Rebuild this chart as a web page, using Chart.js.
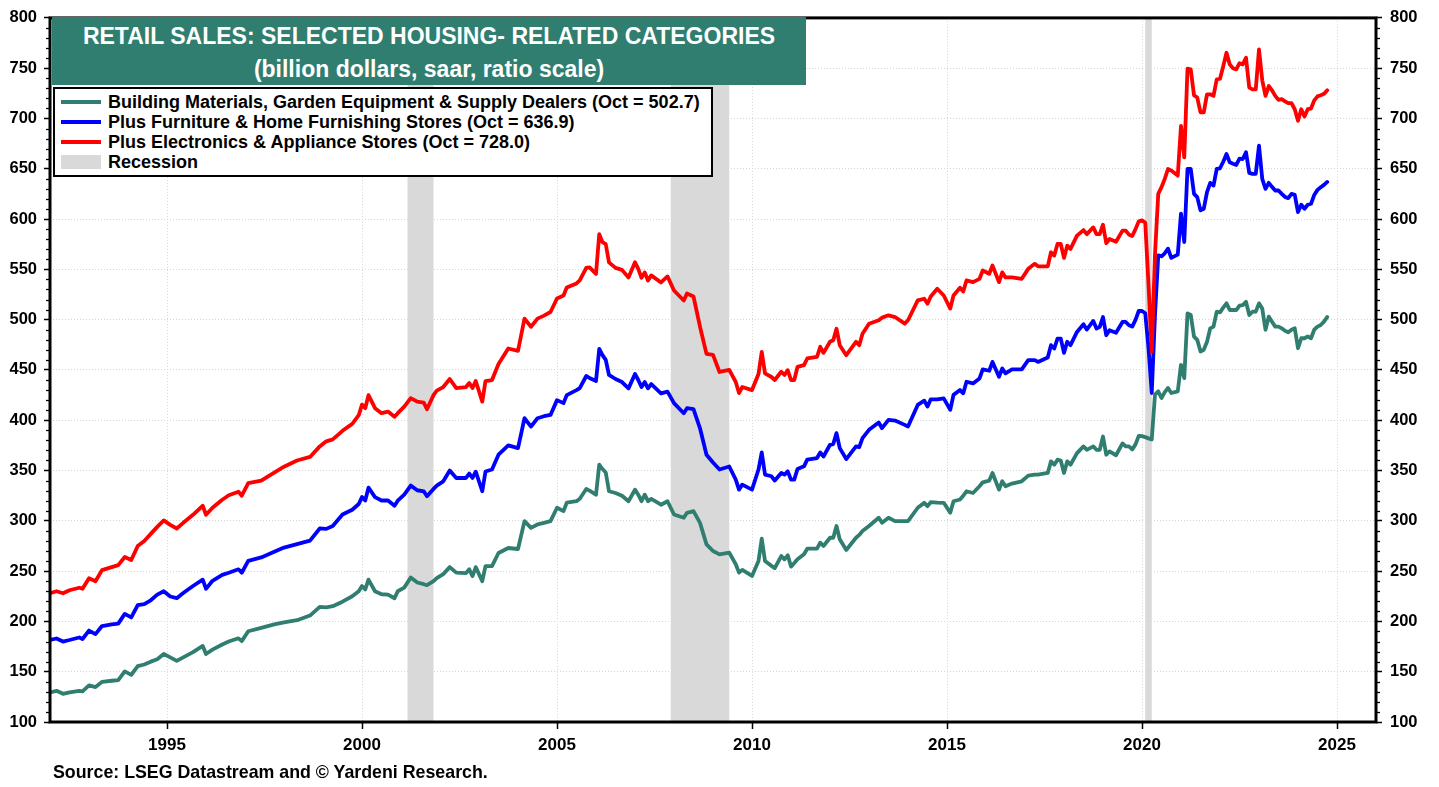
<!DOCTYPE html>
<html>
<head>
<meta charset="utf-8">
<script src="https://cdn.jsdelivr.net/npm/chart.js@4.4.0/dist/chart.umd.min.js"></script>
<style>
html,body{margin:0;padding:0;background:#fff;}
#wrap{position:relative;width:1439px;height:787px;font-family:Arial,"Liberation Sans",sans-serif;font-weight:bold;}
#c{position:absolute;left:0;top:0;}
#titlebox{position:absolute;left:52px;top:17px;width:754px;height:68px;background:#2F7E70;color:#fff;}
.tl{position:absolute;left:0;width:100%;text-align:center;font-size:23px;line-height:24px;white-space:nowrap;}
#legend{position:absolute;left:53px;top:87px;width:660px;height:90px;box-sizing:border-box;border:2px solid #000;background:#fff;}
.lrow{position:absolute;left:0;height:20px;width:100%;}
.sw{position:absolute;left:6px;width:40px;height:4px;top:8px;}
.lt{position:absolute;left:53px;top:0;font-size:18px;line-height:20px;white-space:nowrap;color:#000;}
#source{position:absolute;left:53px;top:762px;font-size:17.8px;line-height:20px;color:#000;white-space:nowrap;}
</style>
</head>
<body>
<div id="wrap">
<canvas id="c" width="1439" height="787"></canvas>
<div id="titlebox">
  <div class="tl" style="top:7px">RETAIL SALES: SELECTED HOUSING- RELATED CATEGORIES</div>
  <div class="tl" style="top:40px">(billion dollars, saar, ratio scale)</div>
</div>
<div id="legend"></div>
<div id="source">Source: LSEG Datastream and © Yardeni Research.</div>
</div>
<script>
// ---------------- DATA ----------------
const dates = [
 '1992-01','1992-03','1992-05','1992-07','1992-10','1992-11',
 '1993-01','1993-03','1993-05','1993-08','1993-10','1993-12',
 '1994-02','1994-04','1994-06','1994-08','1994-10','1994-12',
 '1995-02','1995-04','1995-06','1995-09','1995-12',
 '1996-01','1996-03','1996-06','1996-08','1996-11','1996-12',
 '1997-02','1997-06','1997-10',
 '1998-01','1998-05','1998-09','1998-12',
 '1999-02','1999-04','1999-07','1999-10','1999-12',
 '2000-01','2000-02','2000-03','2000-05','2000-07','2000-09','2000-11','2000-12',
 '2001-02','2001-04','2001-06','2001-08','2001-09','2001-11','2001-12',
 '2002-02','2002-04','2002-06','2002-09','2002-10','2002-11','2002-12',
 '2003-02','2003-03','2003-05','2003-07','2003-10',
 '2004-01','2004-03','2004-05','2004-07','2004-09','2004-11',
 '2005-01','2005-03','2005-04','2005-07','2005-08','2005-10','2005-11',
 '2006-01','2006-02','2006-03','2006-04','2006-05','2006-07','2006-09','2006-11',
 '2007-01','2007-02','2007-03','2007-04','2007-05','2007-06','2007-09','2007-11',
 '2008-01','2008-04','2008-05','2008-07','2008-09','2008-11',
 '2009-01','2009-03','2009-06','2009-08','2009-09','2009-10',
 '2010-01','2010-03','2010-04','2010-05','2010-07','2010-08','2010-10','2010-11','2010-12',
 '2011-01','2011-02','2011-03','2011-05','2011-06','2011-09','2011-10','2011-11',
 '2012-01','2012-02','2012-03','2012-04','2012-06','2012-09','2012-10','2012-11',
 '2013-01','2013-04','2013-05','2013-07','2013-09','2013-12',
 '2014-01','2014-04','2014-06','2014-07','2014-08','2014-10','2014-12',
 '2015-02','2015-03','2015-05','2015-06','2015-07','2015-09','2015-11','2015-12',
 '2016-02','2016-03','2016-05','2016-06','2016-07','2016-09','2016-12',
 '2017-02','2017-04','2017-05','2017-08','2017-09','2017-10','2017-11','2017-12',
 '2018-01','2018-02','2018-03','2018-05','2018-07','2018-08','2018-10','2018-11','2018-12',
 '2019-01','2019-02','2019-03','2019-05','2019-07','2019-08','2019-09','2019-10','2019-11','2019-12',
 '2020-01','2020-02','2020-03','2020-04','2020-05','2020-06','2020-07','2020-08','2020-09','2020-10','2020-12',
 '2021-01','2021-02','2021-03','2021-04','2021-05','2021-06','2021-07','2021-08','2021-09','2021-10','2021-11','2021-12',
 '2022-01','2022-02','2022-03','2022-04','2022-05','2022-06','2022-07','2022-08','2022-09','2022-10','2022-11','2022-12',
 '2023-01','2023-02','2023-03','2023-04','2023-05','2023-06','2023-07','2023-08','2023-09','2023-10','2023-11','2023-12',
 '2024-01','2024-02','2024-03','2024-04','2024-05','2024-06','2024-07','2024-08','2024-09','2024-10'
];

const buildingMaterials = [
 129.5,131,128,129.5,131,130.5,
 136.4,134.7,139.9,141,141.6,150.3,
 146.8,155.5,157.2,160,162.4,167.6,
 164.2,160.7,164.2,169.4,175.6,
 167.6,172,177,180,183.2,180.4,
 190.2,193.6,197,
 199,201.2,205.8,214.4,
 214,215.1,219.6,225,230,
 235.2,231.8,241.5,230,227,226.6,223,230,
 233.6,243.6,238.7,237,236,240,243,
 247,254,248.5,248,251.8,245,254,
 240,255,255,268,273,
 272,299.7,293,296.4,298,299.7,
 313,309.6,318,319.5,322,331.7,330,
 326,355.8,351.5,348,329.4,327.7,325,319.5,
 331,326,319.5,326,319.5,321.8,316,319.5,
 306.3,303,308,309.6,298,276.6,
 270,266.7,268.4,256.8,248.5,251.2,
 245.2,260,282.2,260,255.2,253,265,261.7,265.7,
 254.5,258,261.7,266.7,272.3,272.3,278.3,275,
 283.2,283.2,294.8,281.6,271,283.2,286,289.8,
 294.8,303,298,303,299.7,299.7,
 299.7,313,317.9,314.6,318.5,318,317.9,
 308,319.5,321.2,325,329.4,327.7,334.4,338.3,
 340,347.6,331,339.3,334.4,337,339.3,
 345,346,346,347.6,359.1,355.8,360.8,360,
 347.6,359.1,355.8,367.3,374,370.6,374,370.6,370.6,
 383.8,365.7,369,365.2,377,374,374,371,376,384.5,
 384.2,383.2,382,380.9,425.4,428.7,422.1,428,432,427.1,428.7,
 455.1,441.9,506.3,504.6,483.2,479.9,468.3,470,478,491.4,493.1,507.9,
 507.3,512,516.2,509.6,509.6,509.6,514,514.5,517.8,504.6,507.9,508,
 516.2,511,490,503,498,493.1,493.1,491.4,489,487.5,490,491.4,
 471.6,481.5,481.5,483.2,481.5,490,493.1,494.7,498,502.7
];

const plusFurniture = [
 181.5,183,180,181.5,184,182.5,
 190.9,187.4,195.4,197,197.8,207.5,
 204,216.2,217.2,221,226.6,230,
 224.8,223.1,228.3,235.2,241.5,
 232.4,240.4,246.3,248.4,251.8,248.4,
 260.2,263.6,269.2,
 273.4,276.8,280.3,292.4,
 292,294.9,306.3,311,316.7,
 323.6,320.2,333,323.6,320.2,320.2,315,320,
 326,335,330.4,329.4,324.5,331.7,335,
 339.3,350,342.6,342.6,347,342.6,348.9,
 329.4,349,351,365.7,375,
 372.3,402,393.7,402,404,405.3,
 420,417,425,430,432,444,442,
 439,471,464.7,460,445,441,438,431.7,
 446,440,433,438,431.7,436,426.8,428.4,
 417,407,412,411,392,365.7,
 358,351,354,341,331,336,
 331,351,368,346,344.3,340,347.6,346,349.2,
 341,341,351.5,354.2,360.8,362.4,368,364,
 375.6,376.3,387.2,372.3,361.4,374,373.3,382.2,
 390.5,397.7,392.1,400.4,399.7,395.4,
 393.8,415.2,419.5,413.6,420.8,420.8,421.8,
 410.3,425.2,430,426.8,438.3,436.6,441.6,450.5,
 449.2,458,443.2,451.5,446.6,450.5,450.5,
 459.8,459.8,458,462.4,474.6,471.3,481.2,481.2,
 467,478,474.6,487.8,495.4,490.1,498.7,491.1,492.8,
 502.6,484.5,489.5,487,497.7,497.7,494.4,493.1,499.7,508.6,
 508.6,506.3,472,427.1,505,564,563,566,570.6,561.4,564.7,
 605.3,577.2,649.8,649.8,625.1,621.8,608.6,610.2,626.7,636,633.3,649.8,
 650.5,657,664.7,656.4,655,653.8,660,659.7,666.4,645.9,644.9,645,
 672.9,640,630,636,632,628.4,628.4,625.1,622,620.8,625.1,624.1,
 607,614.2,610.2,614.2,615.2,624,629,631.7,634,636.9
];

const plusElectronics = [
 228,230,228,231,233.5,232.5,
 243,240,251,254,256,264,
 261,275,280,287,294,300.4,
 296,292.4,298,306,315,
 306,313,321,325.4,329,325,
 337.5,340,348,
 353.8,360,363.5,374,
 379,381,389.5,396.4,405,
 415.5,412,425,412,407,408.6,403.4,407,
 413.5,422,418.5,417.5,411,425,429.4,
 433,441,432,433,437,432,439,
 418.5,439,440,456,471.3,
 469,501,493,501,504,507.6,
 521,524,532,536,539,551.5,552,
 545.5,585,577,575,557,551.5,549.5,542,
 557,550.5,541.6,547,539,544,537,543,
 529,519,526,523,493,466,
 465,448,450,438,427,433,
 430,446,468,446.6,443,440,448.2,445,449.8,
 440,440,453,454.8,461.4,463,473,467,
 478,479.5,491,474.6,464.7,478,474.6,486,
 496,499.4,502,504.3,502.6,496,
 499.4,519.2,520.8,515.8,523,530.7,524,
 511,524,531.7,528,539,537.3,540.6,548.8,
 545.6,553.8,537.3,547,542,542,540.6,
 550.5,555.5,553,553,567,563.7,575.2,575.2,
 561.4,573.6,570.3,583.5,589,585,591.7,585,585,
 594.4,576,580.2,577.5,588.5,588.5,584.5,583.2,590,597.7,
 598.7,596.4,535,468.3,565,625.1,631.7,640,649.8,648.2,643.2,
 692.7,661.4,749.5,748.8,723.1,720.8,706,706,724,724,722.5,739,
 739.6,752,765.3,753.8,750,748.8,755,753.8,760.4,730.7,729,729,
 768.6,738,722.5,732.3,728,722.5,718.5,719.2,717,715.2,715.2,709.2,
 697.7,709.2,702,709.2,709.9,718,722,723.1,724.5,728.0
];

const seriesNames = [
 'Building Materials, Garden Equipment & Supply Dealers (Oct = 502.7)',
 'Plus Furniture & Home Furnishing Stores (Oct = 636.9)',
 'Plus Electronics & Appliance Stores (Oct = 728.0)'
];
const seriesColors = ['#2F7E70', '#0000FF', '#FF0000'];
const recessions = [['2001-03','2001-11'], ['2007-12','2009-06'], ['2020-02','2020-04']];
const xTickYears = [1995, 2000, 2005, 2010, 2015, 2020, 2025];
const yMin = 100, yMax = 800, yStep = 50, yMinorStep = 10;

// ---------------- HELPERS ----------------
function toYear(d){ const [y,m] = d.split('-').map(Number); return y + (m-1)/12; }
const FONT = 'Arial, "Liberation Sans", sans-serif';
Chart.defaults.font.family = FONT;

// legend (HTML, real text)
(function(){
  const lg = document.getElementById('legend');
  const rows = [
    {t: seriesNames[0], c: seriesColors[0], type:'line'},
    {t: seriesNames[1], c: seriesColors[1], type:'line'},
    {t: seriesNames[2], c: seriesColors[2], type:'line'},
    {t: 'Recession', c: '#D9D9D9', type:'box'}
  ];
  rows.forEach((r,i)=>{
    const row = document.createElement('div');
    row.className='lrow'; row.style.top = (3 + i*20) + 'px';
    const sw = document.createElement('div'); sw.className='sw'; sw.style.background=r.c;
    if (r.type==='box'){ sw.style.height='14px'; sw.style.top='3px'; }
    const tx = document.createElement('div'); tx.className='lt'; tx.textContent=r.t;
    row.appendChild(sw); row.appendChild(tx); lg.appendChild(row);
  });
})();

const recessionPlugin = {
  id: 'recessionBands',
  beforeDatasetsDraw(chart){
    const {ctx, chartArea:a, scales:{x}} = chart;
    ctx.save();
    ctx.fillStyle = '#D9D9D9';
    recessions.forEach(([s,e])=>{
      const x1 = x.getPixelForValue(toYear(s)), x2 = x.getPixelForValue(toYear(e));
      ctx.fillRect(x1, a.top, x2-x1, a.bottom-a.top);
    });
    ctx.restore();
  }
};

const framePlugin = {
  id: 'frame',
  afterDatasetsDraw(chart){
    const {ctx, chartArea:a, scales:{y}} = chart;
    ctx.save();
    ctx.strokeStyle = '#000';
    ctx.lineWidth = 1.3;
    for (let v = yMin; v <= yMax; v += yMinorStep){
      if (v % yStep === 0) continue;
      const py = Math.round(y.getPixelForValue(v)) + 0.5;
      ctx.beginPath(); ctx.moveTo(a.left-4, py); ctx.lineTo(a.left, py); ctx.stroke();
      ctx.beginPath(); ctx.moveTo(a.right, py); ctx.lineTo(a.right+4, py); ctx.stroke();
    }
    ctx.lineWidth = 3;
    ctx.strokeRect(a.left, a.top, a.right-a.left, a.bottom-a.top);
    ctx.restore();
  }
};

const gridColor = '#D6D6D6';
const tickFontY = {family: FONT, size: 16.5, weight: 'bold'};
const tickFontX = {family: FONT, size: 17, weight: 'bold'};

function makeDataset(i, vals, order){
  return {
    label: seriesNames[i],
    data: dates.map((d,k)=>({x: toYear(d), y: vals[k]})),
    borderColor: seriesColors[i],
    backgroundColor: seriesColors[i],
    borderWidth: 3.8,
    pointRadius: 0,
    tension: 0,
    borderJoinStyle: 'round',
    borderCapStyle: 'round',
    order: order,
    yAxisID: 'y'
  };
}

new Chart(document.getElementById('c'), {
  type: 'line',
  data: {
    datasets: [
      makeDataset(0, buildingMaterials, 3),
      makeDataset(1, plusFurniture, 2),
      makeDataset(2, plusElectronics, 1)
    ]
  },
  options: {
    responsive: false,
    devicePixelRatio: 1,
    animation: false,
    layout: {padding: {top: 15, left: 0, right: 0, bottom: 0}},
    plugins: {legend: {display: false}, tooltip: {enabled: false}, title: {display: false}},
    scales: {
      x: {
        type: 'linear', min: 1992, max: 2026,
        afterBuildTicks: s => { s.ticks = xTickYears.map(v => ({value: v})); },
        afterFit: s => { s.height = 65; },
        grid: {color: gridColor, lineWidth: 1, tickColor: '#000', tickLength: 7, tickWidth: 1.5, borderDash: [1,2]},
        border: {display: false, dash: [1,2]},
        ticks: {color: '#000', font: tickFontX, padding: 6, maxRotation: 0, autoSkip: false, callback: v => String(v)}
      },
      y: {
        type: 'linear', position: 'left', min: yMin, max: yMax,
        afterFit: s => { s.width = 50; },
        grid: {color: gridColor, lineWidth: 1, tickColor: '#000', tickLength: 6, tickWidth: 1.5, borderDash: [1,2]},
        border: {display: false, dash: [1,2]},
        ticks: {stepSize: yStep, color: '#000', font: tickFontY, padding: 7, callback: v => String(v)}
      },
      y2: {
        type: 'linear', position: 'right', min: yMin, max: yMax,
        afterFit: s => { s.width = 63; },
        grid: {drawOnChartArea: false, tickColor: '#000', tickLength: 6, tickWidth: 1.5},
        border: {display: false},
        ticks: {stepSize: yStep, color: '#000', font: tickFontY, padding: 8, callback: v => String(v)}
      }
    }
  },
  plugins: [recessionPlugin, framePlugin]
});
</script>
</body>
</html>
